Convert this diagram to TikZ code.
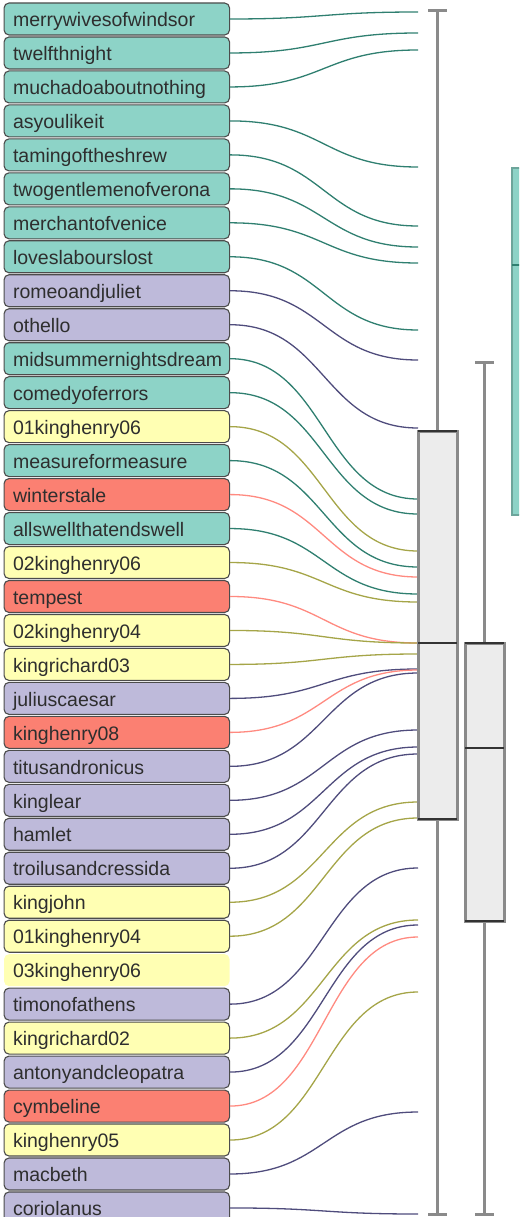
\documentclass[tikz,border=0pt]{standalone}
\usepackage{fontspec}
\setmainfont{Liberation Sans}
\usetikzlibrary{positioning}
\definecolor{fillcomedy}{HTML}{8DD3C7}
\definecolor{linecomedy}{HTML}{2F7F70}
\definecolor{filltragedy}{HTML}{BEBADA}
\definecolor{linetragedy}{HTML}{4F4C7C}
\definecolor{fillhistory}{HTML}{FFFFB3}
\definecolor{linehistory}{HTML}{A5A548}
\definecolor{fillromance}{HTML}{FB8072}
\definecolor{lineromance}{HTML}{FF8A80}
\definecolor{boxgray}{HTML}{8A8A8A}
\definecolor{boxface}{HTML}{ECECEC}

\begin{document}
\begin{tikzpicture}[x=1pt,y=-1pt,
    play/.style={draw=black!70,line width=1.1pt,rounded corners=5pt,anchor=west,
      text width=207.5pt,inner xsep=9pt,inner ysep=2pt,minimum height=32pt,
      text height=19.4pt,text depth=4pt,align=left,
      font=\fontsize{19.5}{20}\selectfont,text=black!82},
    link/.style={line width=1.3pt},
    whisker/.style={draw=boxgray,line width=3pt},
    edge/.style={draw=black!80,line width=1.5pt}]
    \useasboundingbox (0,0) rectangle (519,1217);
    \clip (0,0) rectangle (519,1217);
    \foreach \g/\t/\e [count=\i] in {
        comedy/merrywivesofwindsor/12, comedy/twelfthnight/33,
        comedy/muchadoaboutnothing/50, comedy/asyoulikeit/167,
        comedy/tamingoftheshrew/226, comedy/twogentlemenofverona/247,
        comedy/merchantofvenice/263, comedy/loveslabourslost/330,
        tragedy/romeoandjuliet/360, tragedy/othello/428,
        comedy/midsummernightsdream/499, comedy/comedyoferrors/514,
        history/01kinghenry06/551, comedy/measureformeasure/567,
        romance/winterstale/577, comedy/allswellthatendswell/594,
        history/02kinghenry06/602, romance/tempest/643,
        history/02kinghenry04/643, history/kingrichard03/654,
        tragedy/juliuscaesar/669, romance/kinghenry08/670,
        tragedy/titusandronicus/673, tragedy/kinglear/730,
        tragedy/hamlet/747, tragedy/troilusandcressida/754,
        history/kingjohn/802, history/01kinghenry04/818,
        history/03kinghenry06/0, tragedy/timonofathens/868,
        history/kingrichard02/920, tragedy/antonyandcleopatra/925,
        romance/cymbeline/937, history/kinghenry05/992,
        tragedy/macbeth/1112, tragedy/coriolanus/1214}{
        \ifnum\e>0
            \node[play,fill=fill\g] (play\i) at (3.5,{19+33.97*(\i-1)}) {\t};
            \coordinate (end\i) at (418,\e);
            \draw[link,draw=line\g] (play\i.east) .. controls +(94.5,0) and +(-94.5,0) .. (end\i);
        \else
            \node[play,fill=fill\g,draw=none] (play\i) at (3.5,{19+33.97*(\i-1)}) {\t};
        \fi
    }
    % first box plot
    \draw[whisker] (437,11) -- (437,1214);
    \draw[whisker] (428,11) -- (447,11);
    \draw[whisker] (428,1214) -- (447,1214);
    \draw[whisker,fill=boxface] (418,431) rectangle (457,819);
    \draw[edge] (418,431) -- (457,431);
    \draw[edge] (418,643) -- (457,643);
    \draw[edge] (418,819) -- (457,819);
    % second box plot
    \draw[whisker] (484,362) -- (484,1214);
    \draw[whisker] (475,362) -- (494,362);
    \draw[whisker] (475,1214) -- (494,1214);
    \draw[whisker,fill=boxface] (465,643) rectangle (504,921);
    \draw[edge] (465,643) -- (504,643);
    \draw[edge] (465,748) -- (504,748);
    \draw[edge] (465,921) -- (504,921);
    % legend bar
    \draw[draw=linecomedy!70,line width=2pt,fill=fillcomedy] (512,168) rectangle (540,515);
    \draw[draw=linecomedy,line width=1.5pt] (512,265) -- (540,265);
\end{tikzpicture}
\end{document}
